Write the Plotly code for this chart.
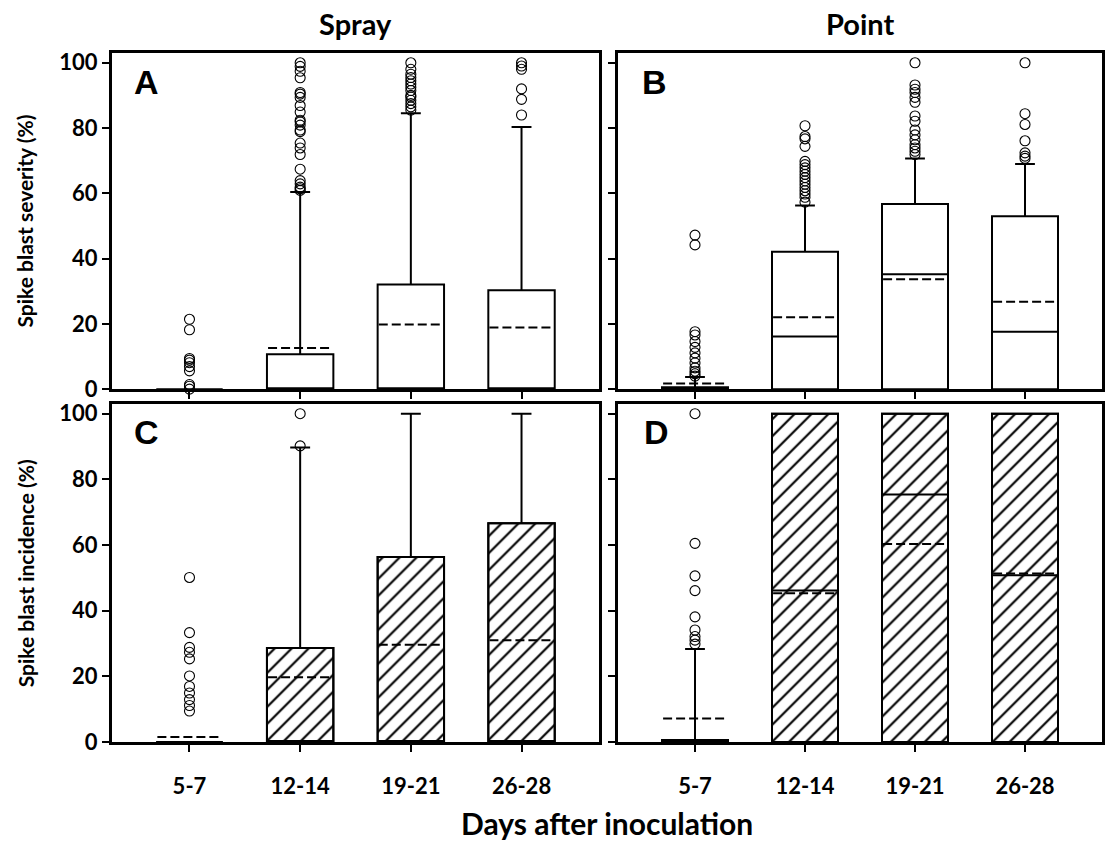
import plotly.graph_objects as go

days = ["5-7", "12-14", "19-21", "26-28"]
xpos = [1, 2, 3, 4]

# ---- Panel A: Spray, severity ----
A_q1 = [0, 0, 0, 0]
A_med = [0, 0, 0, 0]
A_q3 = [0, 10.7, 32.1, 30.3]
A_lo = [0, 0, 0, 0]
A_hi = [0, 60.4, 84.5, 80.3]
A_mean = [None, 12.6, 19.8, 18.9]
A_out1 = [21.4, 18.2, 9.4, 8.9, 8.1, 6.9, 5.6, 1.4, 0.9, 0]
A_out2 = [100, 98.9, 97.4, 95.4, 90.9, 90.4, 89.4, 86.9, 84.9, 82.4, 81.9, 80.9,
          79.4, 78.9, 75.4, 73.9, 71.9, 67.4, 63.9, 62.9, 61.9, 61.4, 60.9]
A_out3 = [100, 98, 96.5, 95.5, 94.5, 93.5, 92.5, 91.5, 90, 89.5, 88.5, 87.5, 86.5, 85.5]
A_out4 = [100, 99, 98, 92, 88.8, 84]

# ---- Panel B: Point, severity ----
B_q1 = [0, 0, 0, 0]
B_med = [0, 16.1, 35.2, 17.6]
B_q3 = [0.6, 42.1, 56.7, 53.0]
B_lo = [0, 0, 0, 0]
B_hi = [3.7, 56.3, 70.7, 69.0]
B_mean = [1.7, 22.0, 33.7, 26.8]
B_out1 = [47.2, 44.2, 17.6, 16.6, 14.6, 12.8, 11.1, 9.5, 8.0, 6.5, 5.5, 4.7, 4.0]
B_out2 = [80.7, 77.4, 76.7, 74.4, 69.8, 68.8, 67.8, 66.8, 65.8, 64.8, 63.8, 62.8,
          61.8, 60.8, 59.8, 58.8, 57.3]
B_out3 = [100, 93.2, 91.9, 90.9, 89.4, 87.9, 83.7, 82.1, 79.4, 77.9, 76.4, 74.9,
          73.9, 72.9, 71.9]
B_out4 = [100, 84.4, 81.1, 76.1, 72.4, 71.4, 70.7]

# ---- Panel C: Spray, incidence ----
C_q1 = [0, 0, 0, 0]
C_med = [0, 0, 0, 0]
C_q3 = [0, 28.6, 56.3, 66.6]
C_lo = [0, 0, 0, 0]
C_hi = [0, 89.7, 100, 100]
C_mean = [1.5, 19.7, 29.6, 31.0]
C_out1 = [50.1, 33.3, 28.8, 27.3, 25.3, 20.1, 16.9, 14.9, 12.9, 11.1, 9.4]
C_out2 = [100, 90.2]
C_out3 = []
C_out4 = []

# ---- Panel D: Point, incidence ----
D_q1 = [0, 0, 0, 0]
D_med = [0, 46.1, 75.4, 50.8]
D_q3 = [0.6, 100, 100, 100]
D_lo = [0, 0, 0, 0]
D_hi = [28.3, 100, 100, 100]
D_mean = [7.1, 45.3, 60.3, 51.3]
D_out1 = [100, 60.5, 50.6, 46.1, 38.1, 34.1, 32.1, 31.0, 29.8]
D_out2 = []
D_out3 = []
D_out4 = []

panels = [
    dict(name="A", xa="x", ya="y", q1=A_q1, med=A_med, q3=A_q3, lo=A_lo, hi=A_hi,
         mean=A_mean, outs=[A_out1, A_out2, A_out3, A_out4], hatch=False),
    dict(name="B", xa="x2", ya="y2", q1=B_q1, med=B_med, q3=B_q3, lo=B_lo, hi=B_hi,
         mean=B_mean, outs=[B_out1, B_out2, B_out3, B_out4], hatch=False),
    dict(name="C", xa="x3", ya="y3", q1=C_q1, med=C_med, q3=C_q3, lo=C_lo, hi=C_hi,
         mean=C_mean, outs=[C_out1, C_out2, C_out3, C_out4], hatch=True),
    dict(name="D", xa="x4", ya="y4", q1=D_q1, med=D_med, q3=D_q3, lo=D_lo, hi=D_hi,
         mean=D_mean, outs=[D_out1, D_out2, D_out3, D_out4], hatch=True),
]

BOXW = 0.6
LW = 2
fig = go.Figure()

# hatched bodies first (drawn beneath boxes)
for p in panels:
    if p["hatch"]:
        fig.add_trace(go.Bar(
            x=xpos, base=p["q1"], y=[b - a for a, b in zip(p["q1"], p["q3"])],
            width=BOXW, xaxis=p["xa"], yaxis=p["ya"], showlegend=False,
            hoverinfo="skip",
            marker=dict(color="white", line=dict(color="black", width=LW),
                        pattern=dict(shape="/", fgcolor="black", bgcolor="white",
                                     fgopacity=1, size=12, solidity=0.18,
                                     fillmode="replace")),
        ))

for p in panels:
    fig.add_trace(go.Box(
        x=xpos, q1=p["q1"], median=p["med"], q3=p["q3"],
        lowerfence=p["lo"], upperfence=p["hi"],
        width=BOXW, whiskerwidth=0.3, xaxis=p["xa"], yaxis=p["ya"],
        fillcolor="rgba(0,0,0,0)", line=dict(color="black", width=LW),
        showlegend=False, hoverinfo="skip", boxpoints=False,
    ))

# mean lines (dashed), spanning the box width
for p in panels:
    mx, my = [], []
    for xv, m in zip(xpos, p["mean"]):
        if m is None:
            continue
        mx += [xv - BOXW / 2 + 0.01, xv + BOXW / 2 - 0.01, None]
        my += [m, m, None]
    fig.add_trace(go.Scatter(
        x=mx, y=my, mode="lines", xaxis=p["xa"], yaxis=p["ya"],
        line=dict(color="black", width=2, dash="9px,4px"),
        showlegend=False, hoverinfo="skip",
    ))

for p in panels:
    xs, ys = [], []
    for xv, vals in zip(xpos, p["outs"]):
        xs += [xv] * len(vals)
        ys += vals
    fig.add_trace(go.Scatter(
        x=xs, y=ys, mode="markers", xaxis=p["xa"], yaxis=p["ya"],
        marker=dict(symbol="circle-open", size=10, color="black", line=dict(width=1.1)),
        showlegend=False, hoverinfo="skip", cliponaxis=False,
    ))

W, H = 1105, 849
xdomL = [112 / W, 599 / W]
xdomR = [618 / W, 1102 / W]
ydomT = [1 - 393 / H, 1 - 50 / H]
ydomB = [1 - 753 / H, 1 - 408 / H]

FONT = "Lato"
tickfont = dict(family=FONT, size=22, color="black", weight="bold")

def xax(domain, anchor, labels):
    return dict(domain=domain, anchor=anchor, range=[0.3, 4.7],
                tickvals=xpos, ticktext=days, showticklabels=labels,
                ticks="outside", ticklen=7, tickwidth=2, tickcolor="black",
                showline=True, mirror=True, linewidth=3, linecolor="black",
                showgrid=False, zeroline=False, tickfont=tickfont,
                ticklabelstandoff=16)

def yax(domain, anchor, labels):
    return dict(domain=domain, anchor=anchor, range=[0, 103],
                tickvals=[0, 20, 40, 60, 80, 100], showticklabels=labels,
                ticks="outside", ticklen=7, tickwidth=2, tickcolor="black",
                showline=True, mirror=True, linewidth=3, linecolor="black",
                showgrid=False, zeroline=False, tickfont=tickfont)

fig.update_layout(
    width=W, height=H, margin=dict(l=0, r=0, t=0, b=0),
    paper_bgcolor="white", plot_bgcolor="white", showlegend=False,
    xaxis=xax(xdomL, "y", False), yaxis=yax(ydomT, "x", True),
    xaxis2=xax(xdomR, "y2", False), yaxis2=yax(ydomT, "x2", False),
    xaxis3=xax(xdomL, "y3", True), yaxis3=yax(ydomB, "x3", True),
    xaxis4=xax(xdomR, "y4", True), yaxis4=yax(ydomB, "x4", False),
)

ann = []
def txt(x, y, s, size, xanchor="center", yanchor="middle", angle=0, family=FONT):
    ann.append(dict(x=x / W, y=1 - y / H, xref="paper", yref="paper", text=s,
                    showarrow=False, xanchor=xanchor, yanchor=yanchor, textangle=angle,
                    font=dict(family=family, size=size, color="black", weight="bold")))

txt(355, 20, "Spray", 29)
txt(860, 20, "Point", 29)
txt(607, 836, "Days after inoculation", 30)
txt(25, 222, "Spike blast severity (%)", 21, angle=-90)
txt(25, 581, "Spike blast incidence (%)", 21, angle=-90)
txt(132, 80, "A", 34, xanchor="left", family="Liberation Sans")
txt(640, 80, "B", 34, xanchor="left", family="Liberation Sans")
txt(132, 437, "C", 34, xanchor="left", family="Liberation Sans")
txt(642, 437, "D", 34, xanchor="left", family="Liberation Sans")
fig.update_layout(annotations=ann)

fig.write_html("out.html")
